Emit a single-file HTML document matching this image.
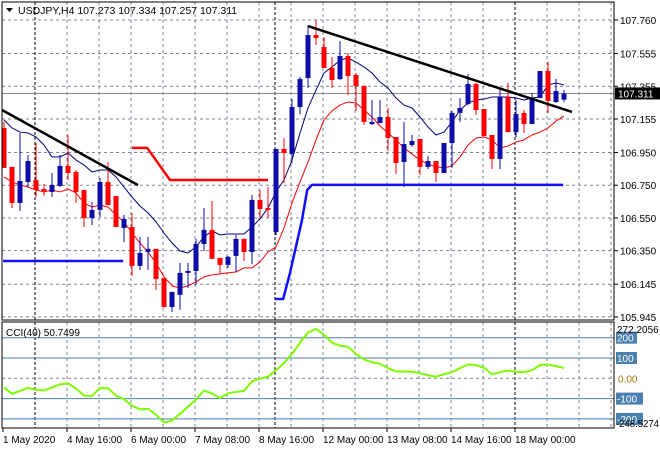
<!DOCTYPE html>
<html><head><meta charset="utf-8"><style>
html,body{margin:0;padding:0;background:#fff;}
svg{display:block;font-family:"Liberation Sans",sans-serif;}
</style></head><body>
<svg id="chart" width="660" height="450" viewBox="0 0 660 450" xmlns="http://www.w3.org/2000/svg"></svg>
<script>
const opens=[107.100,106.862,106.642,106.770,106.782,106.727,106.709,106.746,106.868,106.831,106.721,106.550,106.599,106.770,106.684,106.489,106.495,106.257,106.342,106.361,106.183,106.006,106.080,106.214,106.226,106.391,106.477,106.306,106.263,106.318,106.422,106.342,106.660,106.611,106.464,106.972,106.941,107.228,107.405,107.668,107.595,107.467,107.399,107.540,107.424,107.357,107.124,107.130,107.167,107.045,106.892,106.996,107.033,106.862,106.898,106.825,107.008,107.192,107.247,107.369,107.216,107.057,106.911,107.289,107.075,107.192,107.124,107.283,107.448,107.259,107.273];
const highs=[107.137,106.862,107.069,106.935,107.008,106.758,106.825,106.935,107.057,106.843,106.721,106.648,106.794,106.892,106.684,106.568,106.581,106.434,106.434,106.361,106.183,106.098,106.275,106.275,106.422,106.611,106.654,106.306,106.318,106.446,106.422,106.691,106.721,106.739,106.972,107.039,107.277,107.412,107.729,107.760,107.656,107.534,107.631,107.558,107.436,107.357,107.271,107.271,107.222,107.045,107.137,107.057,107.033,106.929,106.898,107.008,107.204,107.283,107.430,107.375,107.216,107.057,107.338,107.375,107.271,107.210,107.314,107.448,107.503,107.399,107.334];
const lows=[106.856,106.611,106.593,106.739,106.678,106.684,106.678,106.739,106.782,106.642,106.495,106.507,106.556,106.629,106.495,106.403,106.196,106.232,106.232,106.110,106.000,105.976,105.988,106.122,106.141,106.348,106.300,106.208,106.245,106.220,106.287,106.269,106.550,106.550,106.446,106.764,106.886,107.185,107.344,107.607,107.467,107.344,107.393,107.302,107.204,107.118,107.118,107.130,106.959,106.819,106.739,106.984,106.813,106.849,106.770,106.825,106.856,107.137,107.240,107.179,107.051,106.849,106.849,107.075,107.045,107.069,107.124,107.283,107.192,107.253,107.257];
const closes=[106.856,106.642,106.776,106.898,106.721,106.715,106.752,106.868,106.825,106.709,106.550,106.599,106.770,106.629,106.495,106.544,106.257,106.336,106.361,106.177,106.006,106.098,106.214,106.226,106.391,106.477,106.300,106.263,106.312,106.422,106.342,106.660,106.605,106.599,106.972,106.947,107.228,107.399,107.668,107.650,107.467,107.393,107.540,107.418,107.357,107.137,107.137,107.167,107.039,106.886,107.002,107.020,106.862,106.898,106.825,107.008,107.192,107.222,107.369,107.210,107.051,106.911,107.289,107.075,107.185,107.124,107.283,107.448,107.265,107.326,107.311];
const maFast=[107.149,107.100,107.075,107.069,107.045,106.996,106.923,106.923,106.947,106.904,106.874,106.831,106.843,106.843,106.801,106.739,106.678,106.623,106.581,106.526,106.458,106.397,106.348,106.336,106.373,106.434,106.471,106.446,106.452,106.452,106.452,106.495,106.544,106.611,106.709,106.782,106.904,107.069,107.222,107.332,107.436,107.473,107.515,107.528,107.503,107.473,107.436,107.381,107.344,107.283,107.240,107.222,107.167,107.106,107.057,107.075,107.137,107.210,107.253,107.271,107.277,107.289,107.289,107.289,107.283,107.271,107.283,107.289,107.363,107.375,107.363];
const maSlow=[106.801,106.770,106.752,106.739,106.721,106.709,106.721,106.709,106.727,106.703,106.642,106.617,106.629,106.617,106.568,106.526,106.458,106.397,106.342,106.275,106.190,106.135,106.122,106.135,106.159,106.190,106.202,106.208,106.214,106.220,106.245,106.245,106.281,106.342,106.373,106.489,106.642,106.770,106.892,107.027,107.149,107.204,107.240,107.259,107.253,107.210,107.167,107.112,107.069,107.027,106.978,106.941,106.904,106.880,106.862,106.856,106.868,106.923,106.996,107.039,107.045,107.027,106.978,106.990,107.014,107.027,107.057,107.075,107.100,107.143,107.173];
const cciValues=[-45,-77,-62,-47,-57,-60,-45,-30,-25,-50,-85,-87,-48,-49,-85,-103,-135,-153,-150,-180,-218,-208,-175,-140,-105,-60,-75,-98,-74,-67,-62,-15,-2,8,40,75,120,175,225,243,215,175,161,155,120,93,79,72,50,34,33,33,25,15,8,20,30,50,68,65,52,20,30,38,33,30,40,65,68,60,51];
const priceTicks=[107.760,107.555,107.355,107.155,106.950,106.750,106.550,106.350,106.145,105.945];
const cciLevels=[200,100,-100,-200];
const dateLabels=["1 May 2020","4 May 16:00","6 May 00:00","7 May 08:00","8 May 16:00","12 May 00:00","13 May 08:00","14 May 16:00","18 May 00:00"];
const dateBarIdx=[-0.125,7.875,15.875,23.875,31.875,39.875,47.875,55.875,63.875];
const trend1Idx=[-0.25,16.75];const trend1Px=[107.210,106.751];
const trend2Idx=[38,71];const trend2Px=[107.723,107.198];
const redStepIdx=[16,17.9,20.75,33];const redStepPx=[106.978,106.978,106.782,106.782];
const blueStep1Idx=[-0.125,14.9];const blueStep1Px=[106.287,106.287];
const blueStep2Idx=[33.9,34.9,35.75,37.25,37.9,38.5,69.9];const blueStep2Px=[106.055,106.055,106.214,106.538,106.721,106.752,106.752];
const lastPrice=107.311;

const svg=document.getElementById('chart');
const NS='http://www.w3.org/2000/svg';
function X(i){return 4+8*i;}
function Y(p){return 20+(107.76-p)*163.6;}
function YC(v){return 378.3-v*0.203;}
function mk(tag,attrs,parent){const e=document.createElementNS(NS,tag);for(const k in attrs)e.setAttribute(k,attrs[k]);(parent||svg).appendChild(e);return e;}

const grid=mk('g',{});


priceTicks.forEach(p=>{const l=mk('line',{x1:2,x2:614,y1:Y(p),y2:Y(p),stroke:'#7a8796','stroke-dasharray':'3,3','stroke-width':1},grid);});
for(let x=35;x<614;x+=32){
  if(x===35||x===515)continue;
  mk('line',{x1:x,x2:x,y1:2,y2:320,stroke:'#7a8796','stroke-dasharray':'3,3'},grid);
  mk('line',{x1:x,x2:x,y1:322,y2:428,stroke:'#7a8796','stroke-dasharray':'3,3'},grid);
}
[35,275,515].forEach(x=>{
  const l=mk('line',{x1:x,x2:x,y1:2,y2:320,stroke:'#000','stroke-dasharray':'3,2'},grid);
  mk('line',{x1:x,x2:x,y1:322,y2:428,stroke:'#000','stroke-dasharray':'3,2'},grid);
});
const cp=mk('line',{x1:2,x2:614,y1:Y(lastPrice),y2:Y(lastPrice),stroke:'#8a8a8a','stroke-width':1});



function poly(idx,px,color,w,name){
  const pts=idx.map((k,i)=>X(k)+','+Y(px[i])).join(' ');
  const e=mk('polyline',{points:pts,fill:'none',stroke:color,'stroke-width':w,'stroke-linejoin':'round'});
  
  
}
poly(blueStep1Idx,blueStep1Px,'#1010ff',2.5,'support-level-left');
poly(redStepIdx,redStepPx,'#ff0000',2.5,'resistance-step-line');
poly(blueStep2Idx,blueStep2Px,'#1010ff',2.5,'support-step-line');
poly(maSlow.map((_,i)=>i),maSlow,'#ff0000',1,'slow-moving-average');
poly(maFast.map((_,i)=>i),maFast,'#00007a',1,'fast-moving-average');

const cg=mk('g',{});


closes.forEach((c,i)=>{
  const o=opens[i],bull=c>=o,col=bull?'#0c0ca8':'#ff0000';
  const x=X(i);
  const g=mk('g',{},cg);
  
  
  mk('line',{x1:x,x2:x,y1:Y(highs[i]),y2:Y(lows[i]),stroke:col,'stroke-width':1},g);
  const top=Y(Math.max(o,c)),bot=Y(Math.min(o,c));
  mk('rect',{x:x-2.5,y:top,width:5,height:Math.max(1.5,bot-top),fill:col},g);
});
poly(trend1Idx,trend1Px,'#000',2.5,'trendline-left');
poly(trend2Idx,trend2Px,'#000',2.5,'trendline-right');

const cg2=mk('g',{});


mk('line',{x1:2,x2:614,y1:YC(0),y2:YC(0),stroke:'#7a8796','stroke-dasharray':'3,3'},cg2);
cciLevels.forEach(v=>{const l=mk('line',{x1:2,x2:614,y1:YC(v),y2:YC(v),stroke:'#4a7fae','stroke-width':1},cg2);});
const cl=mk('polyline',{points:cciValues.map((v,i)=>X(i)+','+YC(v)).join(' '),fill:'none',stroke:'#7cfc00','stroke-width':2,'stroke-linejoin':'round'},cg2);



mk('rect',{x:2,y:2,width:612,height:318,fill:'none',stroke:'#000','stroke-width':1});
mk('rect',{x:2,y:322,width:612,height:106,fill:'none',stroke:'#000','stroke-width':1});

priceTicks.forEach(p=>{
  mk('line',{x1:614,x2:618,y1:Y(p),y2:Y(p),stroke:'#000'});
  const t=mk('text',{x:620,y:Y(p)+4,'font-size':10,fill:'#000'});t.textContent=p.toFixed(3);
  
});
mk('rect',{x:615,y:Y(lastPrice)-6,width:45,height:12,fill:'#000'});
const lp=mk('text',{x:618,y:Y(lastPrice)+4,'font-size':10,fill:'#fff'});lp.textContent=lastPrice.toFixed(3);


cciLevels.forEach(v=>{
  mk('rect',{x:616,y:YC(v)-6,width:v<0?27:21,height:12,fill:'#4a7fae'});
  const t=mk('text',{x:617,y:YC(v)+4,'font-size':10,fill:'#fff'});t.textContent=String(v);
  
});
const z=mk('text',{x:618,y:YC(0)+4,'font-size':10,fill:'#b07000'});z.textContent='0.00';

const mx=mk('text',{x:617,y:333,'font-size':10,fill:'#000'});mx.textContent='272.2056';

const mn=mk('text',{x:616,y:427,'font-size':10,fill:'#000',textLength:43,lengthAdjust:'spacingAndGlyphs'});mn.textContent='-248.5274';


dateLabels.forEach((d,i)=>{
  const x=X(dateBarIdx[i]);
  mk('line',{x1:x,x2:x,y1:428,y2:432,stroke:'#000'});
  const t=mk('text',{x:x,y:443,'font-size':10,fill:'#000'});t.textContent=d;
  
});

const tri=mk('polygon',{points:'6,8 13,8 9.5,12',fill:'#000'});


const h=mk('text',{x:18,y:14,'font-size':10.5,fill:'#000'});h.textContent='USDJPY,H4  107.273 107.334 107.257 107.311';

const ct=mk('text',{x:6,y:336,'font-size':10,fill:'#000'});ct.textContent='CCI(40) 50.7499';

</script>
</body></html>
